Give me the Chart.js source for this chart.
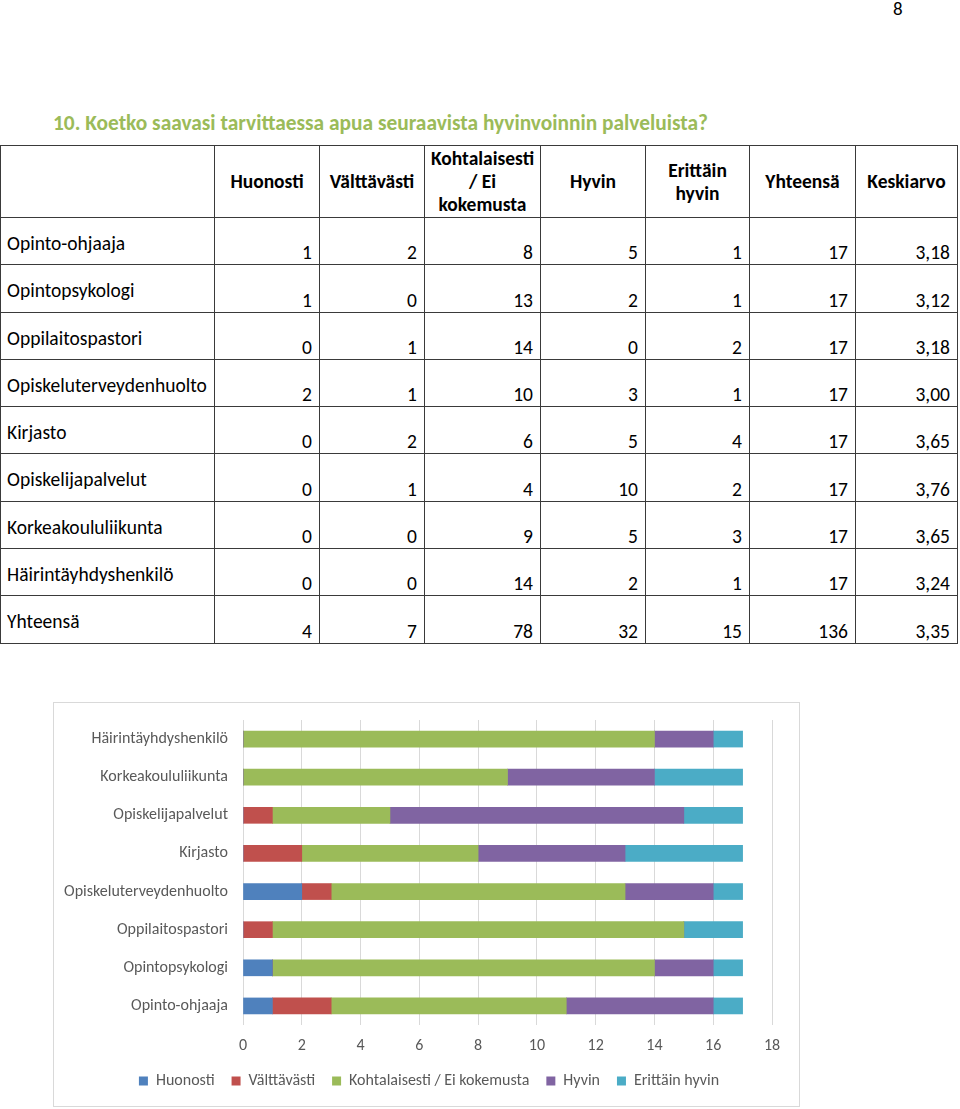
<!DOCTYPE html>
<html lang="fi">
<head>
<meta charset="utf-8">
<title>Koetko saavasi tarvittaessa apua</title>
<script src="https://cdn.jsdelivr.net/npm/chart.js@4.4.1/dist/chart.umd.min.js"></script>
<style>
    body {
        margin: 0;
        width: 960px;
        height: 1109px;
        background: #fff;
        font-family: Carlito, Calibri, Lato, sans-serif;
        color: #000;
        position: relative;
        overflow: hidden;
    }
    #pageNo {
        position: absolute;
        left: 893px;
        top: -3px;
        font-size: 19px;
    }
    #title {
        position: absolute;
        left: 53px;
        top: 110px;
        font-size: 21.4px;
        font-weight: 600;
        color: #9bbb59;
        white-space: nowrap;
    }
    #dataTable {
        position: absolute;
        left: 0;
        top: 145px;
        border-collapse: collapse;
        table-layout: fixed;
        font-size: 19.5px;
    }
    #dataTable th, #dataTable td {
        border: 1px solid #3a3a3a;
        padding: 0;
    }
    #dataTable th {
        height: 71px;
        font-weight: bold;
        text-align: center;
        vertical-align: middle;
        line-height: 23px;
    }
    #dataTable tr.row {
        height: 47.3px;
    }
    #dataTable td {
        line-height: 22px;
        text-align: right;
        vertical-align: bottom;
        padding-right: 7px;
        padding-bottom: 1px;
    }
    #dataTable td.label {
        text-align: left;
        vertical-align: top;
        padding: 14px 0 0 6px;
    }
    #chartBox {
        position: absolute;
        left: 53px;
        top: 702px;
        width: 745px;
        height: 403px;
        border: 1px solid #d9d9d9;
    }
</style>
</head>
<body>
<div id="pageNo">8</div>
<div id="title">10. Koetko saavasi tarvittaessa apua seuraavista hyvinvoinnin palveluista?</div>
<table id="dataTable"></table>
<div id="chartBox"><canvas id="barChart" width="745" height="403"></canvas></div>

<script>
const categories = ['Opinto-ohjaaja', 'Opintopsykologi', 'Oppilaitospastori', 'Opiskeluterveydenhuolto',
    'Kirjasto', 'Opiskelijapalvelut', 'Korkeakoululiikunta', 'Häirintäyhdyshenkilö'];
const seriesNames = ['Huonosti', 'Välttävästi', 'Kohtalaisesti / Ei kokemusta', 'Hyvin', 'Erittäin hyvin'];
const huonosti = [1, 1, 0, 2, 0, 0, 0, 0];
const valttavasti = [2, 0, 1, 1, 2, 1, 0, 0];
const kohtalaisesti = [8, 13, 14, 10, 6, 4, 9, 14];
const hyvin = [5, 2, 0, 3, 5, 10, 5, 2];
const erittainHyvin = [1, 1, 2, 1, 4, 2, 3, 1];
const yhteensa = [17, 17, 17, 17, 17, 17, 17, 17];
const keskiarvo = ['3,18', '3,12', '3,18', '3,00', '3,65', '3,76', '3,65', '3,24'];
const totalRow = ['Yhteensä', 4, 7, 78, 32, 15, 136, '3,35'];
const xTicks = [0, 2, 4, 6, 8, 10, 12, 14, 16, 18];
const colors = ['#4f81bd', '#c0504d', '#9bbb59', '#8064a2', '#4bacc6'];

// Build the table
const headers = ['', 'Huonosti', 'Välttävästi', 'Kohtalaisesti<br>/ Ei<br>kokemusta', 'Hyvin', 'Erittäin<br>hyvin', 'Yhteensä', 'Keskiarvo'];
const colWidths = [214, 105, 105, 116, 105, 104, 106, 102];
const table = document.getElementById('dataTable');
let html = '<colgroup>' + colWidths.map(w => `<col style="width:${w}px">`).join('') + '</colgroup>';
html += '<tr>' + headers.map(h => `<th>${h}</th>`).join('') + '</tr>';
const seriesValues = [huonosti, valttavasti, kohtalaisesti, hyvin, erittainHyvin];
categories.forEach((cat, i) => {
    html += `<tr class="row"><td class="label">${cat}</td>`;
    seriesValues.forEach(s => { html += `<td>${s[i]}</td>`; });
    html += `<td>${yhteensa[i]}</td><td>${keskiarvo[i]}</td></tr>`;
});
html += '<tr class="row">' + totalRow.map((v, i) => i === 0 ? `<td class="label">${v}</td>` : `<td>${v}</td>`).join('') + '</tr>';
table.innerHTML = html;

// Stacked bar chart
const chartFont = 'Carlito, Calibri, Lato, sans-serif';
new Chart(document.getElementById('barChart'), {
    type: 'bar',
    data: {
        labels: categories,
        datasets: seriesValues.map((vals, i) => ({
            label: seriesNames[i],
            data: vals,
            backgroundColor: colors[i],
            borderWidth: 0,
            barThickness: 16
        }))
    },
    options: {
        indexAxis: 'y',
        responsive: false,
        animation: false,
        layout: { padding: { top: 17, right: 0, bottom: 7, left: 5 } },
        plugins: {
            legend: {
                position: 'bottom',
                labels: {
                    boxWidth: 9,
                    boxHeight: 9,
                    padding: 17,
                    color: '#595959',
                    font: { family: chartFont, size: 16 }
                }
            },
            tooltip: { enabled: false }
        },
        scales: {
            x: {
                stacked: true,
                min: 0,
                max: 18,
                afterBuildTicks: axis => { axis.ticks = xTicks.map(v => ({ value: v })); },
                afterFit: axis => {
                    axis.height = 31;
                    axis.paddingLeft = 0;
                    axis.paddingRight = 27;
                },
                ticks: {
                    color: '#595959',
                    padding: 11,
                    font: { family: chartFont, size: 16 }
                },
                grid: { color: '#d9d9d9', drawTicks: false },
                border: { display: false }
            },
            y: {
                stacked: true,
                reverse: true,
                afterFit: axis => {
                    axis.width = 184;
                    axis.paddingTop = 0;
                    axis.paddingBottom = 0;
                },
                ticks: {
                    color: '#595959',
                    padding: 15,
                    font: { family: chartFont, size: 16 }
                },
                grid: { display: false, drawTicks: false },
                border: { display: false }
            }
        }
    }
});
</script>
</body>
</html>
